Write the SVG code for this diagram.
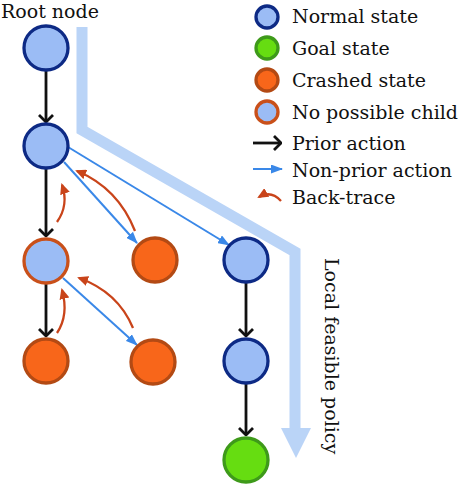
<svg xmlns="http://www.w3.org/2000/svg" width="474" height="485" viewBox="0 0 474 485">
<defs>
<style>
.t{font-family:"DejaVu Serif","Liberation Serif",serif;font-size:19px;fill:#111}
.normal{fill:#9bbcf5;stroke:#0d2a85;stroke-width:3.3}
.goal{fill:#66dd11;stroke:#3e9a1a;stroke-width:3.3}
.crash{fill:#f8661a;stroke:#b34a14;stroke-width:3.3}
.nochild{fill:#9bbcf5;stroke:#c9501a;stroke-width:3.3}
.prior{stroke:#111;stroke-width:2.8;fill:none;marker-end:url(#chev)}
.nonprior{stroke:#3a88e8;stroke-width:2;fill:none;marker-end:url(#tri)}
.back{stroke:#c9441a;stroke-width:2.3;fill:none;marker-end:url(#btri)}
</style>
<marker id="chev" viewBox="0 0 9 16" refX="8" refY="8" markerWidth="9" markerHeight="16" markerUnits="userSpaceOnUse" orient="auto">
<path d="M1,1 L8,8 L1,15" fill="none" stroke="#111" stroke-width="2.8"/>
</marker>
<marker id="tri" viewBox="0 0 12 9" refX="11" refY="4.5" markerWidth="12" markerHeight="9" markerUnits="userSpaceOnUse" orient="auto">
<path d="M0,0 L12,4.5 L0,9 z" fill="#3a88e8"/>
</marker>
<marker id="btri" viewBox="0 0 11 10" refX="9" refY="5" markerWidth="11" markerHeight="10" markerUnits="userSpaceOnUse" orient="auto">
<path d="M0,0 L11,5 L0,10 z" fill="#c9441a"/>
</marker>
</defs>
<rect width="474" height="485" fill="#fff"/>

<g id="policy-band">
<polyline points="82,27 82,130 295,252 295,429" fill="none" stroke="#bad4f7" stroke-width="11" stroke-linejoin="miter"/>
<polygon points="281,428 311,428 296,458" fill="#bad4f7"/>
<text class="t" transform="translate(325,258) rotate(90)">Local feasible policy</text>
</g>

<g id="connectors">
<line class="prior" x1="46" y1="71" x2="46" y2="122"/>
<line class="prior" x1="46" y1="169" x2="46" y2="236"/>
<line class="prior" x1="46" y1="284" x2="46" y2="336"/>
<line class="prior" x1="246" y1="283" x2="246" y2="336"/>
<line class="prior" x1="246" y1="384" x2="246" y2="435"/>
<line class="nonprior" x1="64" y1="162" x2="137" y2="243"/>
<line class="nonprior" x1="68" y1="147" x2="229" y2="245"/>
<line class="nonprior" x1="63" y1="278" x2="137" y2="345"/>
<path class="back" d="M57,222 Q69,205 62,185"/>
<path class="back" d="M135,231 Q118,188 77,171"/>
<path class="back" d="M57,333 Q69,315 62,290"/>
<path class="back" d="M133,328 Q118,292 79,278"/>
</g>

<g id="root-label"><text class="t" x="1" y="18">Root node</text></g>
<g id="n1"><circle class="normal" cx="46" cy="48" r="22"/></g>
<g id="n2"><circle class="normal" cx="46" cy="146" r="22"/></g>
<g id="n3"><circle class="nochild" cx="46" cy="261" r="22"/></g>
<g id="n4"><circle class="crash" cx="46" cy="361" r="22"/></g>
<g id="n5"><circle class="crash" cx="155" cy="260" r="22"/></g>
<g id="n6"><circle class="crash" cx="153" cy="362" r="22"/></g>
<g id="n7"><circle class="normal" cx="246" cy="260" r="22"/></g>
<g id="n8"><circle class="normal" cx="246" cy="361" r="22"/></g>
<g id="n9"><circle class="goal" cx="246" cy="460" r="22"/></g>

<g id="legend">
<circle class="normal" cx="267" cy="17" r="11"/>
<text class="t" x="292" y="23">Normal state</text>
<circle class="goal" cx="267" cy="48" r="11"/>
<text class="t" x="292" y="55">Goal state</text>
<circle class="crash" cx="267" cy="80" r="11"/>
<text class="t" x="292" y="87">Crashed state</text>
<circle class="nochild" cx="267" cy="112" r="11"/>
<text class="t" x="292" y="119">No possible child</text>
<line class="prior" x1="253" y1="143" x2="281" y2="143"/>
<text class="t" x="292" y="150">Prior action</text>
<line class="nonprior" x1="253" y1="169" x2="282" y2="169"/>
<text class="t" x="292" y="177">Non-prior action</text>
<path class="back" d="M281,201 Q271,190 259,197"/>
<text class="t" x="292" y="204">Back-trace</text>
</g>
</svg>
